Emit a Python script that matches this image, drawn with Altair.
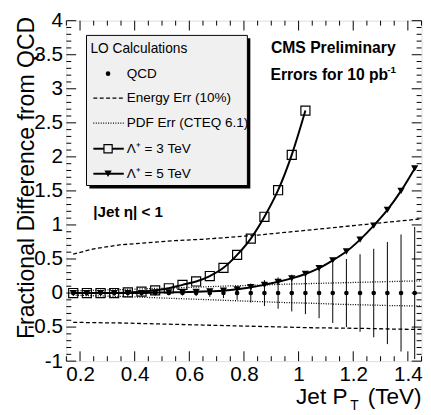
import altair as alt
import pandas as pd

# ---------------- data ----------------
pt_x = [0.175, 0.225, 0.275, 0.325, 0.375, 0.425, 0.475, 0.525, 0.575, 0.625,
        0.675, 0.725, 0.775, 0.825, 0.875, 0.925, 0.975, 1.025, 1.075, 1.125,
        1.175, 1.225, 1.275, 1.325, 1.375, 1.425]
qcd_y = [0, 0, 0, 0, 0, 0, 0, 0, 0, 0, 0, 0, 0, 0, 0, 0, 0, 0, 0, 0, 0, 0, 0, 0, 0, 0]
qcd_err = [0.01, 0.01, 0.01, 0.01, 0.015, 0.02, 0.025, 0.03, 0.035, 0.045,
           0.055, 0.075, 0.10, 0.14, 0.19, 0.23, 0.27, 0.31, 0.37, 0.44,
           0.50, 0.57, 0.65, 0.75, 0.86, 0.97]

lam3_x = [0.175, 0.225, 0.275, 0.325, 0.375, 0.425, 0.475, 0.525, 0.575, 0.625,
          0.675, 0.725, 0.775, 0.825, 0.875, 0.925, 0.975, 1.025]
lam3_y = [0.0, 0.0, 0.0, 0.0, 0.01, 0.02, 0.04, 0.07, 0.12, 0.17,
          0.25, 0.37, 0.56, 0.80, 1.12, 1.51, 2.03, 2.68]

lam5_y = [0.0, 0.0, 0.0, 0.0, 0.0, 0.0, 0.005, 0.01, 0.013, 0.018,
          0.025, 0.035, 0.055, 0.085, 0.12, 0.165, 0.215, 0.28, 0.365, 0.48,
          0.61, 0.785, 0.99, 1.22, 1.50, 1.83]

band_x = [0.175, 0.25, 0.35, 0.45, 0.55, 0.65, 0.75, 0.85, 0.95, 1.05, 1.15, 1.25, 1.35, 1.45]
energy_up = [0.57, 0.65, 0.71, 0.74, 0.77, 0.79, 0.82, 0.85, 0.89, 0.93, 0.97, 1.01, 1.05, 1.09]
energy_dn = [-0.43, -0.435, -0.44, -0.45, -0.46, -0.47, -0.48, -0.49, -0.50, -0.51, -0.515, -0.52, -0.53, -0.535]
pdf_up = [0.03, 0.04, 0.05, 0.065, 0.075, 0.09, 0.105, 0.115, 0.13, 0.14, 0.15, 0.16, 0.17, 0.18]
pdf_dn = [-0.03, -0.04, -0.05, -0.065, -0.08, -0.095, -0.11, -0.125, -0.14, -0.15, -0.165, -0.175, -0.185, -0.19]

x_major = [0.2, 0.4, 0.6, 0.8, 1.0, 1.2, 1.4]
x_minor = [0.15, 0.25, 0.3, 0.35, 0.45, 0.5, 0.55, 0.65, 0.7, 0.75, 0.85, 0.9, 0.95,
           1.05, 1.1, 1.15, 1.25, 1.3, 1.35, 1.45]
y_major = [-1, -0.5, 0, 0.5, 1, 1.5, 2, 2.5, 3, 3.5, 4]
y_minor = [-0.9, -0.8, -0.7, -0.6, -0.4, -0.3, -0.2, -0.1, 0.1, 0.2, 0.3, 0.4,
           0.6, 0.7, 0.8, 0.9, 1.1, 1.2, 1.3, 1.4, 1.6, 1.7, 1.8, 1.9,
           2.1, 2.2, 2.3, 2.4, 2.6, 2.7, 2.8, 2.9, 3.1, 3.2, 3.3, 3.4,
           3.6, 3.7, 3.8, 3.9]

legend_labels = ["QCD", "Energy Err (10%)", "PDF Err (CTEQ 6.1)", "Λ⁺ = 3 TeV", "Λ⁺ = 5 TeV"]

# ---------------- layout ----------------
W, H = 362, 347
FONT = "Liberation Sans"
X0, X1, Y0, Y1 = 0.15, 1.45, -1.0, 4.0
PX_X = (X1 - X0) / W   # data units per pixel
PX_Y = (Y1 - Y0) / H

xs = alt.Scale(domain=[X0, X1], nice=False, zero=False)
ys = alt.Scale(domain=[Y0, Y1], nice=False, zero=False)

label_expr = "datum.value < 0 ? '-' + format(-datum.value, '~g') : format(datum.value, '~g')"
common_axis = dict(labelExpr=label_expr, labelFont=FONT, labelFontSize=21, labelColor="black",
                   labelFlush=False, labelOverlap=False, domain=False, ticks=False, grid=False)
xaxis = alt.Axis(values=x_major, labelPadding=3, **common_axis)
yaxis = alt.Axis(values=y_major, labelPadding=4, **common_axis)


def X(f):
    return alt.X(f, type="quantitative", scale=xs, axis=xaxis, title=None)


def Y(f):
    return alt.Y(f, type="quantitative", scale=ys, axis=yaxis, title=None)


qcd = pd.DataFrame({"x": pt_x, "y": qcd_y,
                    "lo": [a - e for a, e in zip(qcd_y, qcd_err)],
                    "hi": [a + e for a, e in zip(qcd_y, qcd_err)]})
l3 = pd.DataFrame({"x": lam3_x, "y": lam3_y})
l5 = pd.DataFrame({"x": pt_x, "y": lam5_y})
energy = pd.DataFrame({"x": band_x + band_x, "y": energy_up + energy_dn,
                       "b": ["u"] * len(band_x) + ["d"] * len(band_x)})
pdf = pd.DataFrame({"x": band_x + band_x, "y": pdf_up + pdf_dn,
                    "b": ["u"] * len(band_x) + ["d"] * len(band_x)})

# inward frame ticks (decoration)
rows = []
for v in x_major:
    rows += [dict(x=v, x2=v, y=Y0, y2=Y0 + 10 * PX_Y), dict(x=v, x2=v, y=Y1, y2=Y1 - 10 * PX_Y)]
for v in x_minor:
    rows += [dict(x=v, x2=v, y=Y0, y2=Y0 + 5 * PX_Y), dict(x=v, x2=v, y=Y1, y2=Y1 - 5 * PX_Y)]
for v in y_major:
    rows += [dict(x=X0, x2=X0 + 10 * PX_X, y=v, y2=v), dict(x=X1, x2=X1 - 10 * PX_X, y=v, y2=v)]
for v in y_minor:
    rows += [dict(x=X0, x2=X0 + 5 * PX_X, y=v, y2=v), dict(x=X1, x2=X1 - 5 * PX_X, y=v, y2=v)]
tick_df = pd.DataFrame(rows)
ticks = alt.Chart(tick_df).mark_rule(color="black", strokeWidth=1).encode(
    x=X("x"), x2="x2", y=Y("y"), y2="y2")

energy_l = alt.Chart(energy).mark_line(color="black", strokeWidth=1.3, strokeDash=[4, 2.5]).encode(
    x=X("x"), y=Y("y"), detail="b:N")
pdf_l = alt.Chart(pdf).mark_line(color="black", strokeWidth=1.3, strokeDash=[1, 1.5]).encode(
    x=X("x"), y=Y("y"), detail="b:N")

err = alt.Chart(qcd).mark_rule(color="black", strokeWidth=1).encode(
    x=X("x"), y=Y("lo"), y2="hi")
qcd_pts = alt.Chart(qcd).mark_point(filled=True, color="black", size=22, shape="circle", opacity=1).encode(
    x=X("x"), y=Y("y"))

l3_line = alt.Chart(l3).mark_line(color="black", strokeWidth=2, interpolate="monotone").encode(
    x=X("x"), y=Y("y"))
l3_pts = alt.Chart(l3).mark_point(filled=False, color="black", size=85, shape="square",
                                   strokeWidth=1.2, opacity=1).encode(x=X("x"), y=Y("y"))
l5_line = alt.Chart(l5).mark_line(color="black", strokeWidth=2, interpolate="monotone").encode(
    x=X("x"), y=Y("y"))
l5_pts = alt.Chart(l5).mark_point(filled=True, color="black", size=55, shape="triangle-down",
                                   opacity=1).encode(x=X("x"), y=Y("y"))

one = pd.DataFrame({"k": [0]})


def box(x1, y1, x2, y2, fill, stroke=None):
    kw = dict(fill=fill)
    if stroke:
        kw.update(stroke=stroke, strokeWidth=1)
    return alt.Chart(one).mark_rect(**kw).encode(
        x=alt.value(x1), x2=alt.value(x2), y=alt.value(y1), y2=alt.value(y2))


def text(s, x, y, size, bold=False, align="left", baseline="middle", angle=0):
    kw = dict(font=FONT, fontSize=size, align=align, baseline=baseline, color="black")
    if bold:
        kw["fontWeight"] = "bold"
    if angle:
        kw["angle"] = angle
    return alt.Chart(pd.DataFrame({"t": [s]})).mark_text(**kw).encode(
        x=alt.value(x), y=alt.value(y), text="t:N")


def hline(x1, x2, y, dash=None, width=1.3):
    kw = dict(color="black", strokeWidth=width)
    if dash:
        kw["strokeDash"] = dash
    return alt.Chart(one).mark_rule(**kw).encode(
        x=alt.value(x1), x2=alt.value(x2), y=alt.value(y))


def marker(x, y, shape, filled, size):
    return alt.Chart(one).mark_point(shape=shape, filled=filled, size=size, color="black",
                                     opacity=1, strokeWidth=1.2,
                                     fill="black" if filled else "#f0f0f0").encode(
        x=alt.value(x), y=alt.value(y))


ly = [54, 79, 104.5, 130.5, 156]
legend = [
    box(23.5, 18, 187.5, 171, "black"),
    box(20.5, 15, 184.5, 168, "#f0f0f0", stroke="black"),
    text("LO Calculations", 24.5, 29, 14),
    marker(42.5, ly[0], "circle", True, 22),
    hline(27.5, 58.5, ly[1], dash=[4, 2.5]),
    hline(27.5, 58.5, ly[2], dash=[1, 1.5]),
    hline(27.5, 58.5, ly[3], width=2),
    marker(42.5, ly[3], "square", False, 70),
    hline(27.5, 58.5, ly[4], width=2),
    marker(42.5, ly[4], "triangle-down", True, 55),
] + [text(s, 61.5, yy, 13.8) for s, yy in zip(legend_labels, ly)]

annots = [
    text("CMS Preliminary", 208.5, 28, 16, bold=True),
    text("Errors for 10 pb", 208, 55.5, 16, bold=True),
    text("-1", 327, 50.5, 10, bold=True),
    text("|Jet η| < 1", 27.5, 195, 15.5, bold=True),
    text("Fractional Difference from QCD", -33, -4, 23.5, align="right",
         baseline="alphabetic", angle=270),
    text("(TeV)", W, 391, 23, align="right", baseline="alphabetic"),
    text("T", 293.5, 397, 14, align="center", baseline="alphabetic"),
    text("Jet P", 286.5, 391, 23, align="right", baseline="alphabetic"),
]

chart = alt.layer(
    ticks, energy_l, pdf_l, err, qcd_pts, l3_line, l3_pts, l5_line, l5_pts,
    *legend, *annots
).properties(
    width=W, height=H,
    autosize=alt.AutoSizeParams(type="none"),
    padding={"left": 59.5, "top": 9, "right": 1.5, "bottom": 52},
).configure_view(
    stroke="black", strokeWidth=1.2
).configure(background="white")

chart.save("out.html", embed_options={"renderer": "svg", "actions": False})
